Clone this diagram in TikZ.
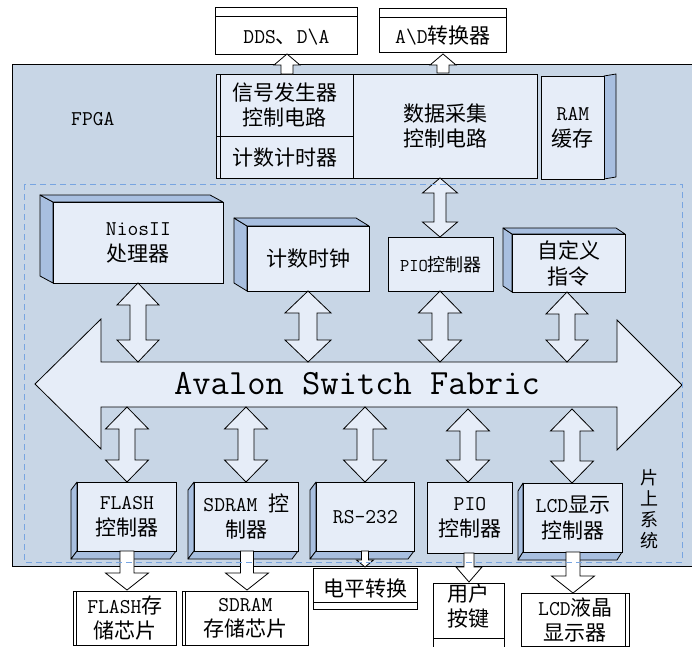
\documentclass[tikz,border=0pt]{standalone}
\usepackage{fontspec}
\newfontfamily\cjk{Noto Sans CJK SC}
\newcommand\zh[1]{{\cjk #1}}
\definecolor{fpgabg}{RGB}{200,214,230}
\definecolor{face}{RGB}{230,237,248}
\definecolor{side}{RGB}{168,191,224}
\definecolor{dashc}{RGB}{120,165,225}
\tikzset{
  base/.style={draw=black, line width=0.8pt},
  facebox/.style={base, fill=face, inner sep=0pt, anchor=north west, align=center,
    font=\fontsize{21}{26}\selectfont\ttfamily},
  extbox/.style={base, fill=white, inner sep=0pt, anchor=north west, align=center,
    font=\fontsize{21}{25}\selectfont\ttfamily},
  sideface/.style={base, fill=side, line join=round},
  barrow/.style={base, fill=face, line join=miter},
  warrow/.style={base, fill=white, line join=miter},
  plainlabel/.style={inner sep=0pt, font=\fontsize{21}{26}\selectfont\ttfamily},
}
% name, x1, y1, x2, y2, text
\newcommand\frontbox[6]{\node[facebox, minimum width={#4-#2}, minimum height={#5-#3}] (#1) at (#2,#3) {#6};}
\newcommand\extnode[6]{\node[extbox, minimum width={#4-#2}, minimum height={#5-#3}] (#1) at (#2,#3) {#6};}
% 3D box with depth to upper left: name,x1,y1,x2,y2,dx,dy,text
\newcommand\boxup[8]{%
  \draw[sideface] (#2,#3) -- ({#2+#6},{#3+#7}) -- ({#2+#6},{#5+#7}) -- (#2,#5) -- cycle;
  \draw[sideface] (#2,#3) -- ({#2+#6},{#3+#7}) -- ({#4+#6},{#3+#7}) -- (#4,#3) -- cycle;
  \frontbox{#1}{#2}{#3}{#4}{#5}{#8}}
% 3D box with depth to lower left
\newcommand\boxdown[8]{%
  \draw[sideface] (#2,#3) -- ({#2+#6},{#3+#7}) -- ({#2+#6},{#5+#7}) -- (#2,#5) -- cycle;
  \draw[sideface] (#2,#5) -- ({#2+#6},{#5+#7}) -- ({#4+#6},{#5+#7}) -- (#4,#5) -- cycle;
  \frontbox{#1}{#2}{#3}{#4}{#5}{#8}}
% double arrow: x, ytop, ybottom, head half, shaft half, head length
\newcommand\dblarr[6]{%
  \draw[barrow] (#1,#2) -- ({#1+#4},{#2+#6}) -- ({#1+#5},{#2+#6}) -- ({#1+#5},{#3-#6})
   -- ({#1+#4},{#3-#6}) -- (#1,#3) -- ({#1-#4},{#3-#6}) -- ({#1-#5},{#3-#6})
   -- ({#1-#5},{#2+#6}) -- ({#1-#4},{#2+#6}) -- cycle;}
% single arrow: x, ystart, yheadbase, ytip, head half, shaft half
\newcommand\onearr[6]{%
  \draw[warrow] ({#1-#6},#2) -- ({#1+#6},#2) -- ({#1+#6},#3) -- ({#1+#5},#3) -- (#1,#4)
   -- ({#1-#5},#3) -- ({#1-#6},#3) -- cycle;}
\begin{document}
\begin{tikzpicture}[x=1pt,y=-1pt]
\useasboundingbox (0,0) rectangle (692,646);
\clip (0,0) rectangle (692,646);
% FPGA background
\node[base, fill=fpgabg, anchor=north west, minimum width=700, minimum height=502, inner sep=0pt] (fpga) at (12,64) {};
\node[plainlabel, anchor=base west] (fpgalbl) at (71,125) {FPGA};
% top external boxes
\extnode{dds}{215}{7}{357}{54}{\raisebox{-13pt}[0pt][0pt]{DDS\zh{、}D\textbackslash A}}
\draw[base] ([yshift=-9pt]dds.north west) -- ([yshift=-9pt]dds.north east);
\extnode{adc}{379}{8}{506}{52}{\raisebox{-13pt}[0pt][0pt]{A\textbackslash D\zh{转换器}}}
\draw[base] ([yshift=-9pt]adc.north west) -- ([yshift=-9pt]adc.north east);
% top block
\frontbox{sig}{216}{74}{353}{136}{\zh{信号发生器}\\[-1pt]\zh{控制电路}}
\frontbox{cnt}{216}{136}{353}{178}{\zh{计数计时器}}
\frontbox{daq}{353}{74}{537}{178}{\zh{数据采集}\\[-1pt]\zh{控制电路}}
\draw[base] ([xshift=4pt]sig.north west) -- ([xshift=4pt]cnt.south west);
\draw[sideface] (604,76) -- (616,74) -- (616,177) -- (604,179) -- cycle;
\frontbox{ram}{541}{76}{604}{179}{RAM\\\zh{缓存}}
% up arrows to external top boxes
\onearr{287}{74}{65}{54}{13}{6}
\onearr{443}{73}{65}{54}{13}{6}
% middle row
\boxup{nios}{53}{202}{223}{283}{-13}{-7}{NiosII\\\zh{处理器}}
\boxup{clk}{247}{226}{369}{291}{-13}{-8}{\zh{计数时钟}}
\node[facebox, minimum width=105, minimum height=54, font=\fontsize{18}{22}\selectfont\ttfamily] (pio) at (388,237) {PIO\zh{控制器}};
\boxup{cust}{512}{234}{625}{292}{-9}{-6}{\zh{自定义}\\\zh{指令}}
% bus
\draw[barrow] (35,384) -- (101,319) -- (101,362) -- (617,362) -- (617,320) -- (682,385)
  -- (617,450) -- (617,407) -- (101,407) -- (101,449) -- cycle;
\node[inner sep=0pt, anchor=base, font=\fontsize{35.5}{40}\selectfont\ttfamily] (bus) at (357,394) {Avalon Switch Fabric};
% double arrows upper
\dblarr{440}{178}{237}{17.5}{6}{15}
\dblarr{138}{283}{362}{21}{8}{22}
\dblarr{308}{291}{362}{23}{9}{22}
\dblarr{440}{291}{362}{21.5}{8}{22}
\dblarr{567}{292}{362}{21}{8}{22}
% double arrows lower
\dblarr{127}{407}{482}{21.5}{8}{22}
\dblarr{246}{407}{482}{21.5}{8}{22}
\dblarr{365}{407}{482}{21.5}{8}{22}
\dblarr{468}{409}{482}{21.5}{8}{22}
\dblarr{572}{409}{483}{21.5}{8}{22}
% bottom controllers
\boxdown{flashc}{77}{482}{176}{551}{-6}{8}{FLASH\\\zh{控制器}}
\boxdown{sdramc}{194}{482}{298}{551}{-6}{8}{SDRAM \zh{控}\\\zh{制器}}
\boxdown{rs}{316}{482}{414}{551}{-6}{8}{RS-232}
\frontbox{pioc}{427}{482}{512}{553}{PIO\\\zh{控制器}}
\boxdown{lcdc}{523}{483}{622}{552}{-5}{8}{LCD\zh{显示}\\\zh{控制器}}
% down arrows
\onearr{127}{551}{573}{590}{21.5}{7}
\onearr{247}{551}{573}{590}{21.5}{6.5}
\onearr{365}{551}{560}{567}{8.5}{3.5}
\onearr{469}{553}{567}{582}{13}{5}
\onearr{573}{552}{576}{593}{21.5}{7}
% on-chip system dashed frame
\draw[dashc, line width=0.8pt, dash pattern=on 6pt off 4pt] (24,184) rectangle (682,562);
\node[inner sep=0pt, align=center, font=\fontsize{18}{21}\selectfont\cjk] (soc) at (649,509) {片\\上\\系\\统};
% bottom external boxes
\extnode{flashm}{73}{591}{176}{645}{FLASH\zh{存}\\\zh{储芯片}}
\draw[base] ([xshift=3pt]flashm.north west) -- ([xshift=3pt]flashm.south west);
\extnode{sdramm}{182}{591}{308}{645}{SDRAM\\\zh{存储芯片}}
\draw[base] ([xshift=3pt]sdramm.north west) -- ([xshift=3pt]sdramm.south west);
\node[extbox, minimum width=104, minimum height=41] (lvl) at (313,568) {\raisebox{3pt}{\zh{电平转换}}};
\draw[base] ([yshift=7pt]lvl.south west) -- ([yshift=7pt]lvl.south east);
\node[extbox, minimum width=71, minimum height=63] (key) at (433,583) {\zh{用户}\\\zh{按键}\\[-4pt]\mbox{}};
\draw[base] ([yshift=9pt]key.south west) -- ([yshift=9pt]key.south east);
\extnode{lcdm}{521}{593}{629}{646}{LCD\zh{液晶}\\\zh{显示器}}
\draw[base] ([xshift=-4pt]lcdm.north east) -- ([xshift=-4pt]lcdm.south east);
\end{tikzpicture}
\end{document}
